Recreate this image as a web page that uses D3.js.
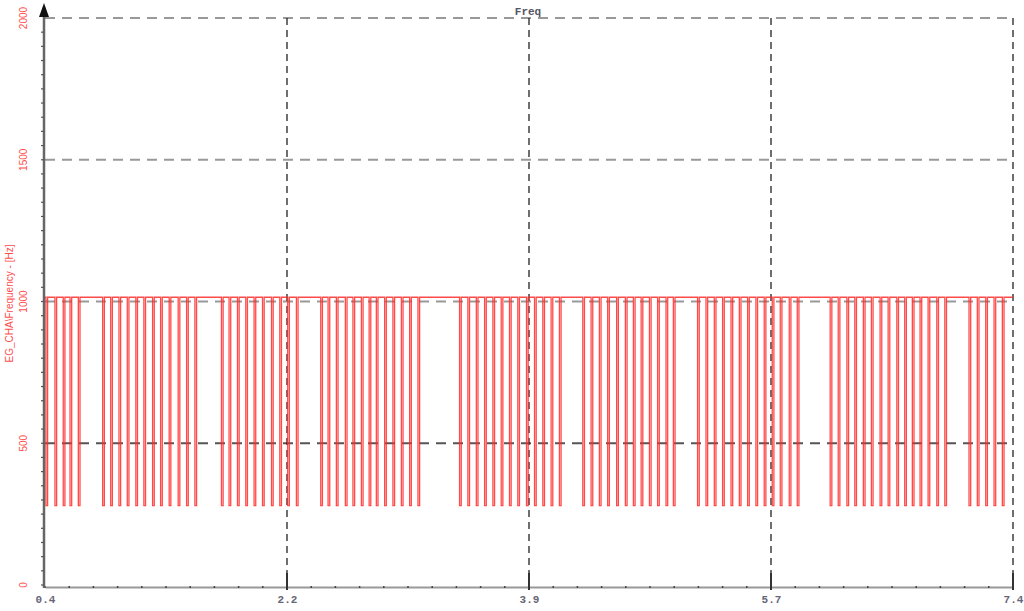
<!DOCTYPE html>
<html>
<head>
<meta charset="utf-8">
<script src="https://cdn.jsdelivr.net/npm/d3@7/dist/d3.min.js"></script>
<style>
  body { margin: 0; background: #fff; }
  svg { display: block; }
</style>
</head>
<body>
<svg id="chart"></svg>
<script>
// Freq trace: channel frequency with periodic drop-outs

const chartWidth = 1024;
const chartHeight = 611;

// data
const titleText = "Freq";
const yLabelText = "EG_CHA\\Frequency - [Hz]";
const xTickValues = [0.4, 2.15, 3.9, 5.65, 7.4];
const xTickLabels = ["0.4", "2.2", "3.9", "5.7", "7.4"];
const yTickValues = [0, 500, 1000, 1500, 2000];
const highLevel = 1015;
const lowLevel = 280;
const spikeTimes = [
    0.407, 0.472, 0.532, 0.581, 0.641,
    0.817, 0.875, 0.935, 0.995, 1.057, 1.115, 1.178, 1.236, 1.298, 1.363, 1.424, 1.484,
    1.676, 1.731, 1.792, 1.852, 1.912, 1.973, 2.038, 2.098, 2.155, 2.218,
    2.394, 2.447, 2.507, 2.572, 2.627, 2.688, 2.744, 2.796, 2.856, 2.916, 2.977, 3.037, 3.097,
    3.398, 3.458, 3.519, 3.579, 3.639, 3.699, 3.759, 3.819, 3.882, 3.940, 4.000, 4.060, 4.120,
    4.289, 4.349, 4.409, 4.469, 4.534, 4.597, 4.655, 4.711, 4.771, 4.830, 4.891, 4.944,
    5.119, 5.180, 5.240, 5.300, 5.361, 5.421, 5.481, 5.541, 5.601, 5.659, 5.717, 5.782, 5.840,
    6.078, 6.136, 6.199, 6.256, 6.318, 6.376, 6.439, 6.497, 6.560, 6.617, 6.672, 6.728, 6.786, 6.849, 6.907,
    7.082, 7.142, 7.203, 7.263, 7.323
];

const svg = d3.select("#chart")
    .attr("width", chartWidth)
    .attr("height", chartHeight);

const xScale = d3.scaleLinear().domain([0.4, 7.4]).range([45, 1013]);
const yScale = d3.scaleLinear().domain([0, 2000]).range([585, 18]);

// grid
svg.append("g")
    .selectAll("line")
    .data(yTickValues.filter(v => v > 0))
    .join("line")
    .attr("x1", xScale(0.4))
    .attr("x2", xScale(7.4))
    .attr("y1", d => yScale(d))
    .attr("y2", d => yScale(d))
    .attr("stroke", d => d === 500 ? "#555" : "#999")
    .attr("stroke-width", 2)
    .attr("stroke-dasharray", "10,7");

svg.append("g")
    .selectAll("line")
    .data(xTickValues.slice(1))
    .join("line")
    .attr("x1", d => xScale(d))
    .attr("x2", d => xScale(d))
    .attr("y1", yScale(2000))
    .attr("y2", yScale(0))
    .attr("stroke", "#222")
    .attr("stroke-width", 1.3)
    .attr("stroke-dasharray", "7,5");

// signal
const points = [[0.4, highLevel]];
spikeTimes.forEach(t => {
    points.push([t, highLevel], [t, lowLevel], [t + 0.012, lowLevel], [t + 0.012, highLevel]);
});
points.push([7.4, highLevel]);

const line = d3.line()
    .x(d => xScale(d[0]))
    .y(d => yScale(d[1]));

svg.append("path")
    .datum(points)
    .attr("fill", "none")
    .attr("stroke", "#ff2a2a")
    .attr("stroke-opacity", 0.85)
    .attr("stroke-width", 1.3)
    .attr("d", line);

// x axis
const xAxis = d3.axisBottom(xScale)
    .tickValues(xTickValues)
    .tickFormat((d, i) => xTickLabels[i])
    .tickSize(0)
    .tickPadding(8);

const xAxisG = svg.append("g")
    .attr("transform", `translate(0, ${yScale(0) + 2})`)
    .call(xAxis);
xAxisG.select(".domain").attr("stroke", "#999").attr("stroke-width", 2);
xAxisG.selectAll("text")
    .attr("font-family", "Liberation Mono, monospace")
    .attr("font-size", 11)
    .attr("font-weight", "bold")
    .attr("fill", "#667");

svg.append("g")
    .selectAll("line")
    .data(d3.range(0, 40).map(i => 0.4 + i * 0.175))
    .join("line")
    .attr("x1", d => xScale(d))
    .attr("x2", d => xScale(d))
    .attr("y1", yScale(0) + 1)
    .attr("y2", yScale(0) + 3)
    .attr("stroke", "#444")
    .attr("stroke-width", 1.5);

svg.append("g")
    .selectAll("line")
    .data(xTickValues.slice(1))
    .join("line")
    .attr("x1", d => xScale(d))
    .attr("x2", d => xScale(d))
    .attr("y1", yScale(0) - 12)
    .attr("y2", yScale(0) + 5)
    .attr("stroke", "#333")
    .attr("stroke-width", 2);

// y axis
svg.append("line")
    .attr("x1", 44).attr("x2", 44)
    .attr("y1", 8).attr("y2", yScale(0) + 3)
    .attr("stroke", "#666")
    .attr("stroke-width", 2.5);

svg.append("path")
    .attr("d", "M44,3 L39,17 L49,17 Z")
    .attr("fill", "#111");

svg.append("g")
    .selectAll("line")
    .data(d3.range(0, 40).map(i => i * 50))
    .join("line")
    .attr("x1", 41)
    .attr("x2", 44)
    .attr("y1", d => yScale(d))
    .attr("y2", d => yScale(d))
    .attr("stroke", "#555")
    .attr("stroke-width", 1.2);

svg.append("g")
    .selectAll("text")
    .data(yTickValues)
    .join("text")
    .attr("transform", d => `translate(27, ${yScale(d)}) rotate(-90)`)
    .attr("text-anchor", "middle")
    .attr("font-family", "Liberation Sans Narrow, Liberation Sans, sans-serif")
    .attr("font-size", 10)
    .attr("fill", "#ff4d4d")
    .text(d => d);

svg.append("text")
    .attr("transform", `translate(13, ${yScale(1000) + 2}) rotate(-90)`)
    .attr("text-anchor", "middle")
    .attr("font-family", "Liberation Sans Narrow, Liberation Sans, sans-serif")
    .attr("font-size", 10)
    .attr("fill", "#ff4d4d")
    .text(yLabelText);

// title
svg.append("text")
    .attr("x", 528)
    .attr("y", 15)
    .attr("text-anchor", "middle")
    .attr("font-family", "Liberation Mono, monospace")
    .attr("font-size", 11)
    .attr("font-weight", "bold")
    .attr("fill", "#556")
    .text(titleText);
</script>
</body>
</html>
